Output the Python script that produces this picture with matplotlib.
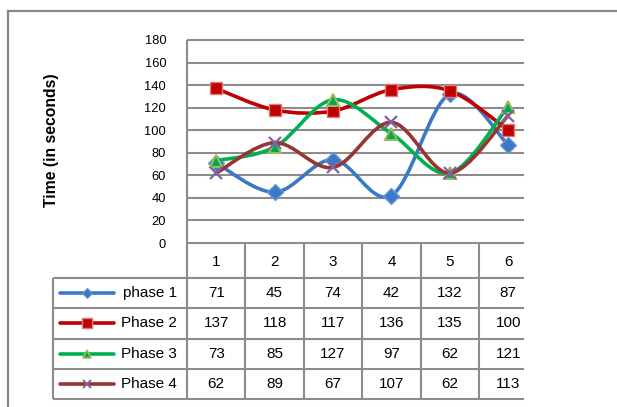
import matplotlib.pyplot as plt
import numpy as np
from matplotlib.path import Path
from matplotlib.patches import PathPatch
from matplotlib.lines import Line2D

plt.rcParams['font.family'] = ['Liberation Sans', 'DejaVu Sans']

# Data
categories = [1, 2, 3, 4, 5, 6]
series_names = ['phase 1', 'Phase 2', 'Phase 3', 'Phase 4']
phase1 = [71, 45, 74, 42, 132, 87]
phase2 = [137, 118, 117, 136, 135, 100]
phase3 = [73, 85, 127, 97, 62, 121]
phase4 = [62, 89, 67, 107, 62, 113]
y_ticks = [0, 20, 40, 60, 80, 100, 120, 140, 160, 180]

series = [phase1, phase2, phase3, phase4]
line_colors = ['#3b78c6', '#c00000', '#00b050', '#943634']
marker_styles = [
    dict(marker='D', ms=8.0, mfc='#3b78c6', mec='#6a98d4', mew=1.0),
    dict(marker='s', ms=8.0, mfc='#c00000', mec='#e07a7a', mew=1.0),
    dict(marker='^', ms=9.0, mfc='#00a84f', mec='#9bbb59', mew=1.5),
    dict(marker='x', ms=8.0, mfc='none', mec='#8064a2', mew=1.6),
]
legend_markers = [
    dict(marker='D', ms=5.0, mfc='#3b78c6', mec='#6a98d4', mew=0.8),
    dict(marker='s', ms=6.5, mfc='#c00000', mec='#e07a7a', mew=1.0),
    dict(marker='^', ms=6.0, mfc='#00a84f', mec='#9bbb59', mew=1.2),
    dict(marker='x', ms=5.5, mfc='none', mec='#8064a2', mew=1.4),
]
grid_color = '#8c8c8c'

W, H = 617, 407
fig = plt.figure(figsize=(W / 100, H / 100), dpi=100)


def fx(px):
    return px / W


def fy(py):
    return 1 - py / H


def smooth_path(x, y):
    # cubic Bezier through the points (Catmull-Rom style tangents)
    pts = np.column_stack([np.asarray(x, float), np.asarray(y, float)])
    n = len(pts)
    verts = [pts[0]]
    codes = [Path.MOVETO]
    for i in range(n - 1):
        p0 = pts[max(i - 1, 0)]
        p1 = pts[i]
        p2 = pts[i + 1]
        p3 = pts[min(i + 2, n - 1)]
        verts += [p1 + (p2 - p0) / 6, p2 - (p3 - p1) / 6, p2]
        codes += [Path.CURVE4] * 3
    return Path(verts, codes)


# outer chart frame (only top/left edges fall inside the image)
fig.add_artist(Line2D([fx(7.5), fx(7.5)], [0, fy(11)], color='#888888', lw=1.6))
fig.add_artist(Line2D([fx(7.5), 1], [fy(11), fy(11)], color='#888888', lw=1.6))

# plot area, pixel layout
L, R, T, B = 187, 524, 40, 243
col_w = 58.4
ax = fig.add_axes([fx(L), fy(B), (R - L) / W, (B - T) / H])
x_max = 0.5 + (R - L) / col_w
ax.set_xlim(0.5, x_max)
ax.set_ylim(0, 180)
for s in ax.spines.values():
    s.set_visible(False)
ax.set_xticks([])
ax.set_yticks(y_ticks)
ax.tick_params(axis='y', length=0, pad=15, labelsize=9.3)
ax.hlines(y_ticks, 0.5, x_max, color=grid_color, lw=1.5, clip_on=False, zorder=1)
ax.vlines(0.5, 0, 180, color=grid_color, lw=1.5, clip_on=False, zorder=1)

for i, vals in enumerate(series):
    patch = PathPatch(smooth_path(categories, vals), fill=False,
                      edgecolor=line_colors[i], lw=2.6, zorder=2 + i,
                      capstyle='round', joinstyle='round')
    ax.add_patch(patch)
    ax.plot(categories, vals, ls='none', zorder=2 + i, **marker_styles[i])

fig.text(fx(52), fy(140), 'Time (in seconds)', rotation=90, ha='center',
         va='center', fontsize=11.3, fontweight='bold')

# data table below the plot
tab_left, tab_bottom = 53, 399.5
tab = fig.add_axes([fx(tab_left), fy(tab_bottom), (R - tab_left) / W,
                    (tab_bottom - B) / H])
tab_xmin = 0.5 - (L - tab_left) / col_w
tab.set_xlim(tab_xmin, x_max)
tab.set_ylim(tab_bottom - B, 0)
tab.axis('off')

rows = [0, 35, 65.3, 95.6, 126, 156.3]
tab.hlines(rows[1:], tab_xmin, x_max, color=grid_color, lw=1.5, clip_on=False)
tab.vlines(np.arange(0.5, 6.0, 1.0), 0, rows[-1], color=grid_color, lw=1.5,
           clip_on=False)
tab.vlines(tab_xmin, rows[1], rows[-1], color=grid_color, lw=1.5, clip_on=False)

for c in categories:
    tab.text(c, 19, str(c), ha='center', va='center', fontsize=11)


def xd(px):
    return 0.5 - (L - px) / col_w


for i, vals in enumerate(series):
    yc = (rows[i + 1] + rows[i + 2]) / 2
    tab.plot([xd(60), xd(114)], [yc, yc], color=line_colors[i], lw=2.6,
             solid_capstyle='round', clip_on=False)
    tab.plot([xd(87)], [yc], ls='none', clip_on=False, **legend_markers[i])
    tab.text(xd(177), yc, series_names[i], ha='right', va='center', fontsize=11)
    for c, v in zip(categories, vals):
        tab.text(c, yc, str(v), ha='center', va='center', fontsize=11)

fig.savefig('out.png', dpi=100)
